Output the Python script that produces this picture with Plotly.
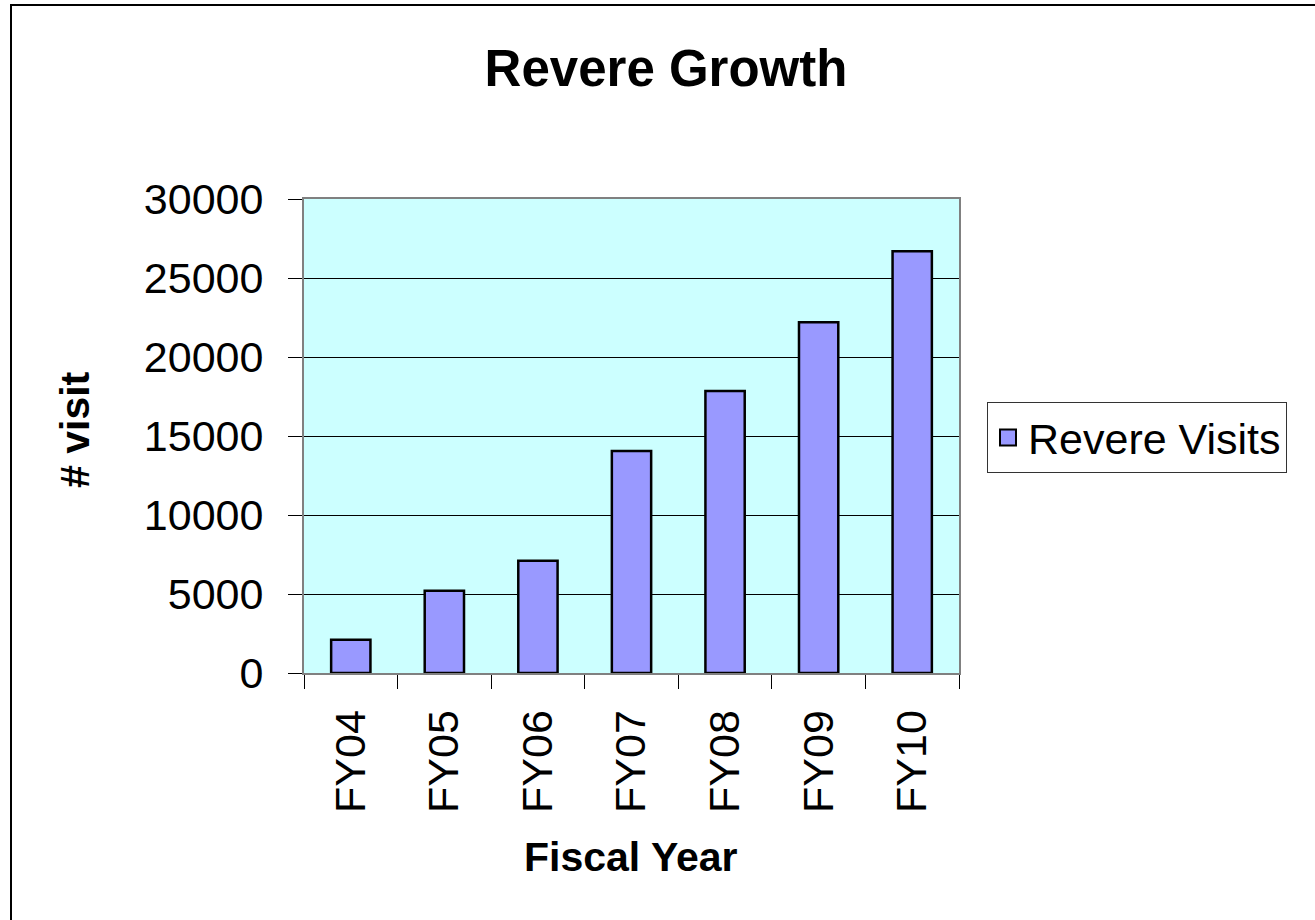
import plotly.graph_objects as go

categories = ["FY04", "FY05", "FY06", "FY07", "FY08", "FY09", "FY10"]
visits = [2100, 5200, 7100, 14050, 17850, 22200, 26700]
series_name = "Revere Visits"
y_ticks = [0, 5000, 10000, 15000, 20000, 25000, 30000]

FONT = "Liberation Sans, Arial, sans-serif"
W, H = 1315, 920
L, T, R, B = 304, 199, 356, 247
PW, PH = W - L - R, H - T - B
BAR_COLOR = "#9999FF"

fig = go.Figure()
fig.add_trace(go.Bar(
    x=categories, y=visits, name=series_name,
    marker=dict(color=BAR_COLOR, line=dict(color="black", width=2.5)),
    showlegend=False, legendgroup="v",
))
# legend entry with a larger square swatch, as in the original
fig.add_trace(go.Scatter(
    x=[None], y=[None], mode="markers", name=series_name, legendgroup="v",
    marker=dict(symbol="square", size=21, color=BAR_COLOR,
                line=dict(color="black", width=2)),
    showlegend=True,
))

fig.update_layout(
    width=W, height=H,
    margin=dict(l=L, r=R, t=T, b=B, autoexpand=False),
    paper_bgcolor="white",
    plot_bgcolor="#CCFFFF",
    bargap=0.58,
    font=dict(family=FONT, size=43, color="black"),
    title=dict(text="<b>Revere Growth</b>", x=666 / W, xanchor="center",
               y=1 - 68 / H, yanchor="middle", font=dict(size=51)),
    showlegend=True,
    legend=dict(x=987 / W, xref="container", xanchor="left",
                y=1 - 402 / H, yref="container", yanchor="top",
                bgcolor="white", bordercolor="#333333", borderwidth=1,
                font=dict(size=43), itemsizing="trace", itemwidth=30),
)

fig.update_xaxes(
    type="category", tickangle=-90, tickson="boundaries",
    ticks="outside", ticklen=14, tickcolor="black", tickwidth=1,
    showline=True, linecolor="#808080", linewidth=2, mirror=True,
    showgrid=False, ticklabelstandoff=18,
)
fig.update_yaxes(
    range=[0, 30000], tickvals=y_ticks, ticktext=[str(v) for v in y_ticks],
    ticks="outside", ticklen=14, tickcolor="black", tickwidth=1,
    showline=True, linecolor="#808080", linewidth=2, mirror=True,
    showgrid=True, gridcolor="black", gridwidth=1,
    zeroline=False, ticklabelstandoff=16,
)

# axis titles
fig.add_annotation(text="<b>Fiscal Year</b>", xref="paper", yref="paper",
                   x=(631 - L) / PW, y=-(857 - (T + PH)) / PH,
                   xanchor="center", yanchor="middle", showarrow=False,
                   font=dict(size=41))
fig.add_annotation(text="<b># visit</b>", xref="paper", yref="paper",
                   x=(75 - L) / PW, y=(T + PH - 430) / PH,
                   xanchor="center", yanchor="middle", showarrow=False,
                   textangle=-90, font=dict(size=41))

# chart frame (only left and top edges are visible in the crop)
fig.add_shape(type="rect", xref="paper", yref="paper",
              x0=(11 - L) / PW, x1=(1400 - L) / PW,
              y0=-(1000 - (T + PH)) / PH, y1=(T + PH - 5) / PH,
              line=dict(color="black", width=2), fillcolor="rgba(0,0,0,0)",
              layer="below")

fig.write_html("out.html", config={"displayModeBar": False},
               post_script="document.body.style.margin='0';")
